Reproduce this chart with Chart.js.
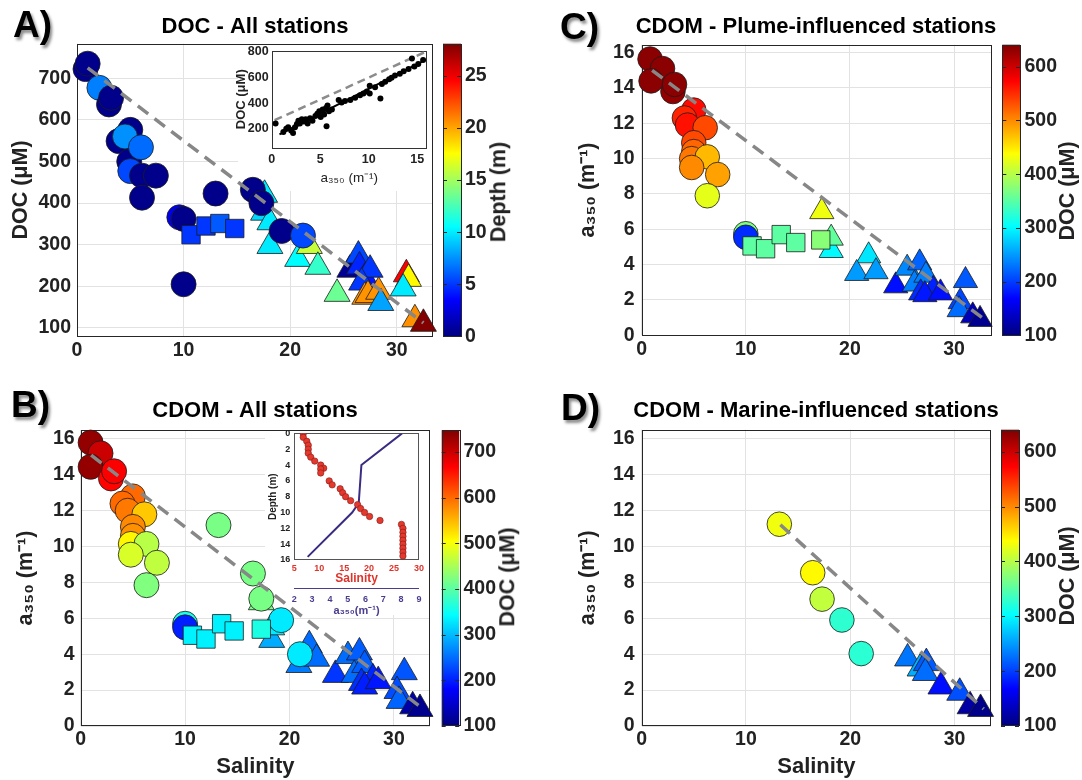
<!DOCTYPE html>
<html>
<head>
<meta charset="utf-8">
<title>DOC and CDOM against salinity</title>
<script src="https://cdn.jsdelivr.net/npm/chart.js@4.4.1/dist/chart.umd.min.js"></script>
<style>
  html, body { margin: 0; padding: 0; background: #fff; }
  body { position: relative; width: 1082px; height: 780px; overflow: hidden;
         font-family: "Liberation Sans", Arial, Helvetica, sans-serif; }
  canvas { position: absolute; }
  .tag { position: absolute; font-size: 37px; font-weight: bold; line-height: 37px; color: #000;
         text-shadow: 2px 3px 3px rgba(0,0,0,0.45); }
  .cbl { position: absolute; font-size: 21.5px; font-weight: bold; line-height: 1; white-space: nowrap;
         color: #222; transform: translate(-50%, -50%) rotate(-90deg); }
</style>
</head>
<body>
<canvas id="panelA" width="510" height="380" style="left:0;top:0"></canvas>
<canvas id="insetA" width="200" height="150" style="left:232px;top:40px"></canvas>
<canvas id="panelB" width="510" height="395" style="left:0;top:385px"></canvas>
<canvas id="insetB" width="166" height="194" style="left:262px;top:424px"></canvas>
<canvas id="panelC" width="532" height="380" style="left:550px;top:0"></canvas>
<canvas id="panelD" width="532" height="395" style="left:550px;top:385px"></canvas>

<div class="tag" style="left:13px;top:6px">A)</div>
<div class="tag" style="left:11px;top:386px">B)</div>
<div class="tag" style="left:560px;top:8px">C)</div>
<div class="tag" style="left:561px;top:389px">D)</div>
<div class="cbl" style="left:499px;top:192px">Depth (m)</div>
<div class="cbl" style="left:508px;top:577px">DOC (μM)</div>
<div class="cbl" style="left:1068px;top:191px">DOC (μM)</div>
<div class="cbl" style="left:1068px;top:576px">DOC (μM)</div>

<script>
// tick labels
const salTicks = [0, 10, 20, 30];
const docTicks = [100, 200, 300, 400, 500, 600, 700];
const a350Ticks = [0, 2, 4, 6, 8, 10, 12, 14, 16];
const depthCbTicks = [0, 5, 10, 15, 20, 25];
const docCbTicksB = [100, 200, 300, 400, 500, 600, 700];
const docCbTicksCD = [100, 200, 300, 400, 500, 600];
const insetA350Ticks = [0, 5, 10, 15];
const insetDocTicks = [200, 400, 600, 800];
const profDepthTicks = [0, 2, 4, 6, 8, 10, 12, 14, 16];
const profSalTicks = [5, 10, 15, 20, 25, 30];
const profA350Ticks = [2, 3, 4, 5, 6, 7, 8, 9];

// A) DOC - all stations (colour = depth)
const aCircSal = [0.8, 1.0, 2.1, 3.0, 3.2, 3.9, 5.0, 4.5, 4.9, 5.0, 6.0, 6.1, 7.4, 6.1, 9.6, 10.0, 10.0, 13.0, 16.5, 17.3, 19.2, 21.2];
const aCircDoc = [722, 735, 677, 637, 653, 549, 576, 560, 500, 477, 534, 466, 466, 413, 366, 362, 205, 423, 432, 400, 333, 322];
const aCircDepth = [0.3, 0.3, 7, 0.3, 0.3, 0.3, 0.3, 7.5, 0.3, 5.5, 6.5, 0.3, 0.3, 0.3, 3, 0.3, 0.3, 0.3, 0.3, 0.3, 0.3, 5.5];
const aSqSal = [10.7, 12.1, 13.4, 14.8];
const aSqDoc = [324, 345, 351, 339];
const aSqDepth = [5, 5, 6, 5];
const aTriSal = [17.6, 17.5, 18.1, 18.1, 20.7, 21.8, 22.6, 24.4, 25.6, 26.4, 26.5, 27.0, 27.5, 26.7, 27.0, 27.3, 28.3, 28.5, 30.9, 31.1, 30.6, 31.7, 32.5];
const aTriDoc = [420, 377, 354, 297, 266, 297, 247, 182, 240, 274, 248, 221, 240, 209, 175, 179, 187, 160, 229, 218, 195, 121, 110];
const aTriDepth = [10, 9.5, 10, 10, 10.5, 16, 12, 13.5, 0.5, 5.5, 4.5, 4, 5, 5, 20.5, 20.5, 20.5, 8, 24.6, 17.7, 10, 20.6, 28];
const aMixSal = [1.0, 32.5];
const aMixDoc = [725, 112];

// A) inset: DOC vs a350
const insetA350 = [0.4, 1.2, 1.5, 1.7, 2.0, 2.2, 2.4, 2.6, 2.75, 2.9, 3.1, 3.3, 3.5, 3.7, 3.95, 4.2, 4.5, 4.7, 4.9, 5.05, 5.25, 5.4, 5.6, 5.75, 5.9, 5.65, 6.2, 6.9, 7.2, 7.55, 8.1, 8.6, 9.1, 9.45, 9.8, 10.1, 10.1, 10.65, 11.2, 11.35, 11.7, 12.1, 12.35, 12.7, 13.2, 13.6, 14.1, 14.45, 14.7, 15.1, 15.6];
const insetDoc = [242, 175, 200, 212, 187, 167, 212, 237, 262, 242, 275, 257, 275, 242, 282, 262, 300, 317, 337, 292, 350, 312, 362, 382, 337, 220, 350, 425, 405, 417, 425, 442, 462, 475, 492, 475, 537, 525, 437, 550, 567, 587, 600, 617, 630, 650, 667, 750, 687, 707, 737];
const insetFitA350 = [0.8, 15.8];
const insetFitDoc = [157, 737];
const insetRefA350 = [0.3, 16.0];
const insetRefDoc = [267, 807];

// B) CDOM - all stations (colour = DOC)
const bCircSal = [0.95, 1.9, 0.95, 2.9, 3.2, 5.0, 4.0, 4.5, 6.1, 5.0, 5.0, 4.8, 6.3, 4.8, 7.3, 6.3, 13.2, 16.5, 17.3, 19.2, 21.0, 10.0, 10.0];
const bCircA350 = [15.8, 15.2, 14.45, 13.8, 14.2, 12.8, 12.4, 12.0, 11.8, 11.1, 10.6, 10.15, 10.15, 9.55, 9.1, 7.85, 11.2, 8.5, 7.1, 5.9, 4.0, 5.7, 5.5];
const bCircDoc = [735, 700, 735, 665, 670, 600, 600, 590, 540, 580, 575, 510, 460, 480, 465, 425, 420, 420, 420, 330, 330, 360, 200];
const bSqSal = [10.7, 12.0, 13.5, 14.7, 17.3];
const bSqA350 = [5.06, 4.85, 5.7, 5.3, 5.4];
const bSqDoc = [335, 335, 335, 335, 360];
const bTriSal = [17.3, 18.3, 18.3, 21.9, 20.9, 22.6, 24.4, 25.6, 26.7, 26.2, 27.2, 26.9, 28.0, 27.2, 28.5, 31.0, 30.3, 30.5, 31.8, 32.5];
const bTriA350 = [6.9, 4.8, 5.5, 4.5, 3.4, 3.75, 2.85, 3.9, 4.1, 2.85, 3.4, 2.4, 2.65, 2.2, 2.5, 3.0, 1.95, 1.4, 1.1, 0.95];
const bTriDoc = [420, 290, 330, 250, 260, 250, 215, 250, 240, 250, 240, 210, 205, 200, 195, 235, 230, 245, 125, 110];
const bMixSal = [1.0, 32.7];
const bMixA350 = [15.1, 1.0];

// B) inset: depth profile
const profSal = [6.8, 6.8, 7.5, 7.8, 7.8, 7.8, 8.3, 9.1, 10.3, 10.9, 10.3, 10.3, 12.0, 12.6, 14.2, 14.7, 15.3, 16.3, 17.7, 18.3, 19.1, 20.1, 22.2, 26.5, 26.8, 26.8, 26.8, 26.8, 26.8, 26.8, 26.8, 26.8];
const profDepth = [0, 0.5, 1, 1.5, 2, 2.5, 3, 3.5, 4, 4.4, 4.5, 5, 6, 6.5, 7, 7.5, 8, 8.5, 9, 9.5, 10, 10.5, 11, 11.5, 12, 12.5, 13, 13.5, 14, 14.5, 15, 15.5];
const profA350 = [8.05, 5.77, 5.62, 5.25, 2.75];
const profA350Depth = [0, 4, 8.8, 10, 15.6];

// C) CDOM - plume-influenced stations
const cCircSal = [0.8, 2.0, 0.9, 3.0, 3.15, 5.0, 4.1, 4.4, 6.1, 5.0, 5.0, 4.8, 6.3, 4.8, 7.3, 6.3, 10.0, 10.0];
const cCircA350 = [15.64, 15.1, 14.4, 13.8, 14.2, 12.75, 12.3, 11.9, 11.75, 10.9, 10.4, 10.0, 10.1, 9.5, 9.1, 7.9, 5.75, 5.55];
const cCircDoc = [635, 635, 635, 630, 635, 568, 555, 565, 535, 535, 520, 510, 475, 500, 488, 425, 370, 190];
const cSqSal = [10.6, 11.9, 13.4, 14.8, 17.2];
const cSqA350 = [5.06, 4.9, 5.7, 5.25, 5.4];
const cSqDoc = [352, 352, 352, 352, 375];
const cTriSal = [17.3, 18.2, 18.2, 21.8, 20.65, 22.5, 24.4, 25.5, 26.7, 26.2, 27.3, 26.8, 28.0, 27.2, 28.7, 31.1, 30.6, 30.5, 31.8, 32.5];
const cTriA350 = [7.0, 4.8, 5.5, 4.5, 3.5, 3.6, 2.8, 3.8, 4.1, 2.9, 3.4, 2.4, 2.6, 2.3, 2.4, 3.1, 1.9, 1.45, 1.1, 0.9];
const cTriDoc = [430, 300, 355, 290, 250, 250, 175, 240, 220, 235, 235, 190, 185, 180, 175, 215, 205, 225, 130, 108];
const cMixSal = [1.0, 32.7];
const cMixA350 = [15.0, 1.0];

// D) CDOM - marine-influenced stations
const dCircSal = [13.2, 16.4, 17.3, 19.2, 21.05];
const dCircA350 = [11.23, 8.53, 7.06, 5.9, 4.03];
const dCircDoc = [430, 440, 405, 327, 325];
const dTriSal = [25.5, 26.7, 27.3, 27.2, 28.7, 30.5, 31.5, 32.5];
const dTriA350 = [3.76, 3.2, 3.5, 2.95, 2.2, 1.85, 1.1, 0.95];
const dTriDoc = [230, 260, 215, 225, 175, 210, 120, 105];
const dMixSal = [13.3, 32.8];
const dMixA350 = [11.2, 0.95];

Chart.defaults.font.family = '"Liberation Sans", Arial, Helvetica, sans-serif';
Chart.defaults.color = '#222';
Chart.defaults.animation = false;
Chart.defaults.events = [];
Chart.defaults.plugins.legend.display = false;
Chart.defaults.plugins.tooltip.enabled = false;

// matlab-ish jet colormap
function jet(t) {
  t = Math.max(0, Math.min(1, t));
  const c = v => Math.round(255 * Math.max(0, Math.min(1, v)));
  return 'rgb(' + c(1.5 - Math.abs(4 * t - 3)) + ',' + c(1.5 - Math.abs(4 * t - 2)) + ',' + c(1.5 - Math.abs(4 * t - 1)) + ')';
}
const colorsFor = (vals, lo, hi) => vals.map(v => jet((v - lo) / (hi - lo)));
const pts = (xs, ys) => xs.map((x, i) => ({x: x, y: ys[i]}));
const fixTicks = list => scale => { scale.ticks = list.map(v => ({value: v})); };
const fixSize = px => scale => { if (scale.isHorizontal()) scale.height = px; else scale.width = px; };

// axes box + white patch behind an inset
const framePlugin = {
  id: 'frame',
  beforeDatasetsDraw(chart, args, opts) {
    const ctx = chart.ctx, a = chart.chartArea;
    ctx.save();
    if (opts.mask) {
      const m = opts.mask;
      ctx.fillStyle = '#fff';
      ctx.fillRect(m[0], m[1], m[2] - m[0], m[3] - m[1]);
    }
    ctx.strokeStyle = opts.color || '#262626';
    ctx.lineWidth = 1;
    ctx.strokeRect(Math.round(a.left) + 0.5, Math.round(a.top) + 0.5, Math.round(a.width) - 1, Math.round(a.height) - 1);
    ctx.restore();
  }
};

// colour strip drawn next to the 'cb' axis
const colorbarPlugin = {
  id: 'colorbar',
  afterDraw(chart, args, opts) {
    const s = chart.scales.cb;
    if (!s) return;
    const ctx = chart.ctx, a = chart.chartArea;
    const x0 = a.right + opts.gap, w = opts.width;
    const yTop = s.getPixelForValue(s.max), yBot = s.getPixelForValue(s.min);
    const g = ctx.createLinearGradient(0, yBot, 0, yTop);
    for (let i = 0; i <= 64; i++) g.addColorStop(i / 64, jet(i / 64));
    ctx.save();
    ctx.fillStyle = g;
    ctx.fillRect(x0, yTop, w, yBot - yTop);
    ctx.strokeStyle = '#262626';
    ctx.lineWidth = 1;
    ctx.strokeRect(Math.round(x0) + 0.5, Math.round(yTop) + 0.5, Math.round(w), Math.round(yBot - yTop) - 1);
    s.ticks.forEach(t => {
      const y = Math.round(s.getPixelForValue(t.value)) + 0.5;
      ctx.beginPath();
      ctx.moveTo(x0, y); ctx.lineTo(x0 + 4, y);
      ctx.moveTo(x0 + w - 4, y); ctx.lineTo(x0 + w, y);
      ctx.stroke();
    });
    ctx.restore();
  }
};

function markers(xs, ys, cs, lo, hi, style, r, order) {
  return {
    data: pts(xs, ys), pointStyle: style, pointRadius: r,
    backgroundColor: colorsFor(cs, lo, hi), borderColor: '#1c1c1c', borderWidth: 0.8,
    order: order, clip: false
  };
}
function mixLine(xs, ys) {
  return {
    data: pts(xs, ys), showLine: true, pointRadius: 0, borderColor: '#878787',
    borderWidth: 3.5, borderDash: [13, 8], order: 0, clip: false
  };
}

function mainChart(id, p) {
  const tickFont = {size: 19.5, weight: 'bold'};
  return new Chart(document.getElementById(id), {
    type: 'scatter',
    data: {datasets: p.datasets},
    options: {
      responsive: false,
      layout: {padding: 0},
      plugins: {
        title: {display: true, text: p.title, color: '#000', font: {size: 22, weight: 'bold'},
                padding: {top: p.titleTop, bottom: p.titleBottom}},
        frame: {mask: p.mask},
        colorbar: {gap: p.cbGap, width: p.cbWidth}
      },
      scales: {
        x: {
          type: 'linear', position: 'bottom', min: 0, max: p.xMax,
          afterBuildTicks: fixTicks(salTicks), afterFit: fixSize(p.xH),
          grid: {color: '#e2e2e2', drawTicks: false}, border: {display: false},
          ticks: {font: tickFont, padding: 2.3, maxRotation: 0, autoSkip: false, color: '#222'},
          title: {display: !!p.xTitle, text: p.xTitle || '', font: {size: 22, weight: 'bold'},
                  color: '#222', padding: {top: 0, bottom: 0}}
        },
        y: {
          type: 'linear', position: 'left', min: p.yMin, max: p.yMax,
          afterBuildTicks: fixTicks(p.yTicks), afterFit: fixSize(p.yW),
          grid: {color: '#e2e2e2', drawTicks: false}, border: {display: false},
          ticks: {font: tickFont, padding: p.yPad, autoSkip: false, color: '#222'},
          title: {display: true, text: p.yTitle, font: {size: 21.5, weight: 'bold'}, color: '#222',
                  padding: {top: p.yTitlePad, bottom: 0}}
        },
        cb: {
          type: 'linear', position: 'right', min: p.cbMin, max: p.cbMax,
          afterBuildTicks: fixTicks(p.cbTicks), afterFit: fixSize(p.cbW),
          grid: {display: false, drawTicks: false}, border: {display: false},
          ticks: {font: tickFont, padding: p.cbPad, autoSkip: false, color: '#222'}
        }
      }
    },
    plugins: [framePlugin, colorbarPlugin]
  });
}

// ---- A
mainChart('panelA', {
  title: 'DOC - All stations', titleTop: 7.8, titleBottom: 3.8,
  xMax: 33.4, xH: 37,
  yMin: 80, yMax: 783, yTicks: docTicks, yW: 77, yPad: 6, yTitle: 'DOC (μM)', yTitlePad: 8,
  cbMin: 0, cbMax: 28.1, cbTicks: depthCbTicks, cbW: 77, cbPad: 32, cbGap: 10, cbWidth: 18,
  mask: [238, 39, 432, 191],
  datasets: [
    mixLine(aMixSal, aMixDoc),
    markers(aSqSal, aSqDoc, aSqDepth, 0, 28.1, 'rect', 13, 1),
    markers(aCircSal, aCircDoc, aCircDepth, 0, 28.1, 'circle', 12.5, 2),
    markers(aTriSal, aTriDoc, aTriDepth, 0, 28.1, 'triangle', 15, 3)
  ]
});

// ---- B
mainChart('panelB', {
  title: 'CDOM - All stations', titleTop: 6.1, titleBottom: 6.2,
  xMax: 33.46, xH: 54, xTitle: 'Salinity',
  yMin: 0, yMax: 16.49, yTicks: a350Ticks, yW: 80.7, yPad: 6, yTitle: 'a₃₅₀ (m⁻¹)', yTitlePad: 13,
  cbMin: 100, cbMax: 748, cbTicks: docCbTicksB, cbW: 80, cbPad: 33.5, cbGap: 11.7, cbWidth: 17.5,
  mask: [265, 39, 429, 230],
  datasets: [
    mixLine(bMixSal, bMixA350),
    markers(bSqSal, bSqA350, bSqDoc, 100, 748, 'rect', 13, 1),
    markers(bCircSal, bCircA350, bCircDoc, 100, 748, 'circle', 12.5, 2),
    markers(bTriSal, bTriA350, bTriDoc, 100, 748, 'triangle', 15, 3)
  ]
});

// ---- C
mainChart('panelC', {
  title: 'CDOM - Plume-influenced stations', titleTop: 7.8, titleBottom: 4.8,
  xMax: 33.6, xH: 37.5,
  yMin: 0, yMax: 16.45, yTicks: a350Ticks, yW: 91.7, yPad: 7, yTitle: 'a₃₅₀ (m⁻¹)', yTitlePad: 25,
  cbMin: 100, cbMax: 641, cbTicks: docCbTicksCD, cbW: 90.5, cbPad: 33, cbGap: 10.8, cbWidth: 17.7,
  datasets: [
    mixLine(cMixSal, cMixA350),
    markers(cSqSal, cSqA350, cSqDoc, 100, 641, 'rect', 13, 1),
    markers(cCircSal, cCircA350, cCircDoc, 100, 641, 'circle', 12.3, 2),
    markers(cTriSal, cTriA350, cTriDoc, 100, 641, 'triangle', 14, 3)
  ]
});

// ---- D
mainChart('panelD', {
  title: 'CDOM - Marine-influenced stations', titleTop: 6.8, titleBottom: 5.5,
  xMax: 33.5, xH: 54, xTitle: 'Salinity',
  yMin: 0, yMax: 16.49, yTicks: a350Ticks, yW: 91.7, yPad: 7, yTitle: 'a₃₅₀ (m⁻¹)', yTitlePad: 25,
  cbMin: 100, cbMax: 640, cbTicks: docCbTicksCD, cbW: 91, cbPad: 33, cbGap: 10, cbWidth: 18,
  datasets: [
    mixLine(dMixSal, dMixA350),
    markers(dCircSal, dCircA350, dCircDoc, 100, 640, 'circle', 12.3, 2),
    markers(dTriSal, dTriA350, dTriDoc, 100, 640, 'triangle', 15, 3)
  ]
});

// ---- inset of A: DOC vs a350
new Chart(document.getElementById('insetA'), {
  type: 'scatter',
  data: {datasets: [
    {data: pts(insetRefA350, insetRefDoc), showLine: true, pointRadius: 0, borderColor: '#8c8c8c',
     borderWidth: 2.5, borderDash: [8, 5], order: 2},
    {data: pts(insetFitA350, insetFitDoc), showLine: true, pointRadius: 0, borderColor: '#000',
     borderWidth: 2, order: 1},
    {data: pts(insetA350, insetDoc), pointRadius: 3, backgroundColor: '#000', borderColor: '#000',
     borderWidth: 0, order: 0}
  ]},
  options: {
    responsive: false,
    layout: {padding: {top: 6.7, right: 5, left: 0, bottom: 0}},
    plugins: {frame: {color: '#333'}},
    scales: {
      x: {
        type: 'linear', min: 0, max: 16, afterBuildTicks: fixTicks(insetA350Ticks), afterFit: fixSize(42),
        grid: {display: false, drawTicks: false}, border: {display: false},
        ticks: {font: {size: 12.5, weight: 'bold'}, padding: 4, maxRotation: 0, autoSkip: false, color: '#222'},
        title: {display: true, text: 'a₃₅₀ (m⁻¹)', font: {size: 13.5}, color: '#222', padding: {top: 0, bottom: 3.5}}
      },
      y: {
        type: 'linear', min: 50, max: 812, afterBuildTicks: fixTicks(insetDocTicks), afterFit: fixSize(39.7),
        grid: {display: false, drawTicks: false}, border: {display: false},
        ticks: {font: {size: 12.5, weight: 'bold'}, padding: 3, autoSkip: false, color: '#222'},
        title: {display: true, text: 'DOC (μM)', font: {size: 13, weight: 'bold'}, color: '#222', padding: {top: 2, bottom: 0}}
      }
    }
  },
  plugins: [framePlugin]
});

// ---- inset of B: depth profile
new Chart(document.getElementById('insetB'), {
  type: 'scatter',
  data: {datasets: [
    {data: pts(profA350, profA350Depth), xAxisID: 'xA', yAxisID: 'y', showLine: true, pointRadius: 0,
     borderColor: '#3a2c82', borderWidth: 2, order: 1},
    {data: pts(profSal, profDepth), xAxisID: 'x', yAxisID: 'y', pointRadius: 3.2,
     backgroundColor: '#e5392e', borderColor: '#7d1d17', borderWidth: 0.6, order: 0}
  ]},
  options: {
    responsive: false,
    layout: {padding: {top: 6, right: 7, left: 0, bottom: 0}},
    plugins: {frame: {color: '#555'}},
    scales: {
      x: {
        type: 'linear', position: 'bottom', min: 5, max: 30,
        afterBuildTicks: fixTicks(profSalTicks), afterFit: fixSize(28),
        grid: {display: false, drawTicks: false}, border: {display: false},
        ticks: {font: {size: 9, weight: 'bold'}, padding: 3.6, maxRotation: 0, autoSkip: false, color: '#e0332b'},
        title: {display: true, text: 'Salinity', font: {size: 12, weight: 'bold'}, color: '#e0332b', padding: {top: 0, bottom: 1.8}}
      },
      xA: {
        type: 'linear', position: 'bottom', min: 2, max: 9,
        afterBuildTicks: fixTicks(profA350Ticks), afterFit: fixSize(30),
        grid: {display: false, drawTicks: false}, border: {display: true, color: '#4a3c8e', width: 1},
        ticks: {font: {size: 9, weight: 'bold'}, padding: 6.6, maxRotation: 0, autoSkip: false, color: '#4a3c8e'},
        title: {display: true, text: 'a₃₅₀(m⁻¹)', font: {size: 11, weight: 'bold'}, color: '#4a3c8e', padding: {top: 0, bottom: 0.7}}
      },
      y: {
        type: 'linear', position: 'left', reverse: true, min: 0, max: 16,
        afterBuildTicks: fixTicks(profDepthTicks), afterFit: fixSize(32.3),
        grid: {display: false, drawTicks: false}, border: {display: false},
        ticks: {font: {size: 9, weight: 'bold'}, padding: 4, autoSkip: false, color: '#222'},
        title: {display: true, text: 'Depth (m)', font: {size: 10, weight: 'bold'}, color: '#222', padding: {top: 5.3, bottom: 0}}
      }
    }
  },
  plugins: [framePlugin]
});
</script>
</body>
</html>
